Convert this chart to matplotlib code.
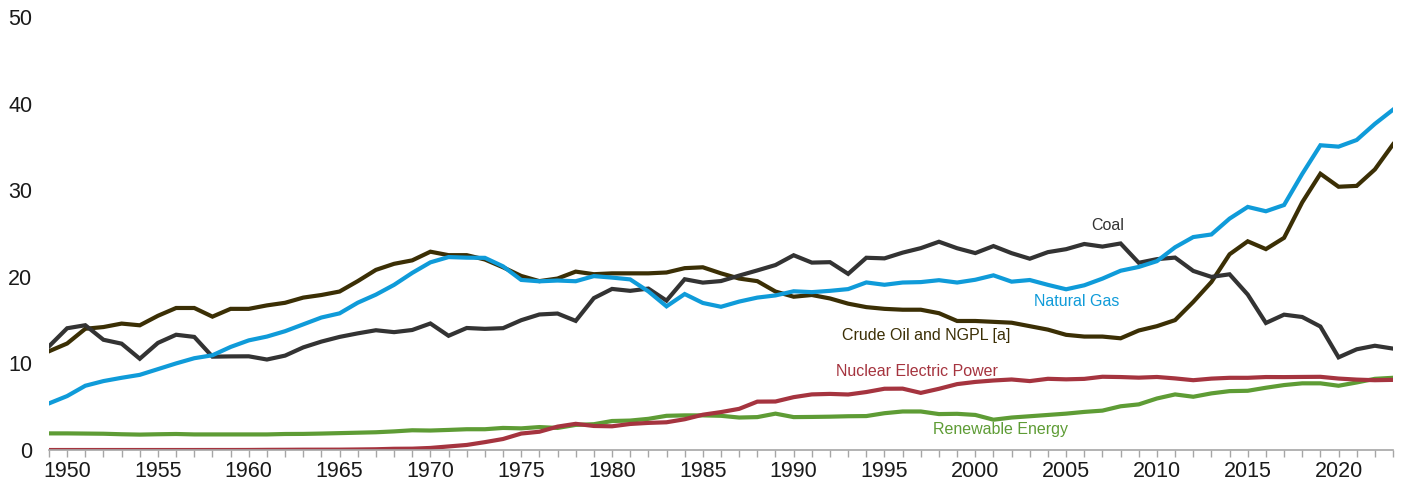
import matplotlib
matplotlib.use("Agg")
import matplotlib.pyplot as plt
import numpy as np

years = list(range(1949, 2024))

coal = [11.97, 14.06, 14.41, 12.73, 12.28, 10.54, 12.37, 13.31, 13.06, 10.78,
        10.81, 10.82, 10.45, 10.90, 11.85, 12.52, 13.06, 13.47, 13.83, 13.61,
        13.86, 14.61, 13.19, 14.09, 13.99, 14.07, 14.99, 15.65, 15.76, 14.91,
        17.54, 18.60, 18.38, 18.64, 17.25, 19.72, 19.33, 19.51, 20.14, 20.74,
        21.36, 22.49, 21.64, 21.69, 20.34, 22.20, 22.13, 22.79, 23.31, 24.05,
        23.30, 22.74, 23.55, 22.73, 22.09, 22.85, 23.19, 23.79, 23.49, 23.85,
        21.62, 22.04, 22.22, 20.68, 19.99, 20.29, 17.95, 14.67, 15.63, 15.36,
        14.26, 10.70, 11.63, 12.04, 11.71]

natural_gas = [5.38, 6.23, 7.42, 7.96, 8.34, 8.68, 9.34, 10.00, 10.60, 10.94,
               11.90, 12.66, 13.10, 13.72, 14.51, 15.30, 15.78, 17.01, 17.94, 19.07,
               20.45, 21.67, 22.28, 22.21, 22.19, 21.21, 19.64, 19.48, 19.57, 19.49,
               20.08, 19.91, 19.70, 18.32, 16.59, 18.01, 16.98, 16.54, 17.14, 17.60,
               17.85, 18.33, 18.23, 18.38, 18.58, 19.35, 19.08, 19.34, 19.39, 19.61,
               19.34, 19.66, 20.17, 19.44, 19.63, 19.07, 18.56, 19.02, 19.79, 20.70,
               21.14, 21.81, 23.41, 24.59, 24.89, 26.72, 28.07, 27.57, 28.29, 31.88,
               35.19, 35.03, 35.80, 37.66, 39.30]

crude_oil = [11.40, 12.30, 14.00, 14.20, 14.60, 14.40, 15.50, 16.40, 16.40, 15.40,
             16.30, 16.30, 16.70, 17.00, 17.60, 17.90, 18.30, 19.50, 20.80, 21.50,
             21.90, 22.90, 22.50, 22.50, 22.00, 21.10, 20.10, 19.50, 19.80, 20.60,
             20.30, 20.40, 20.40, 20.40, 20.50, 21.00, 21.10, 20.40, 19.80, 19.50,
             18.30, 17.70, 17.90, 17.50, 16.90, 16.50, 16.30, 16.20, 16.20, 15.80,
             14.90, 14.90, 14.80, 14.70, 14.30, 13.90, 13.30, 13.10, 13.10, 12.90,
             13.80, 14.30, 15.00, 17.10, 19.40, 22.60, 24.10, 23.20, 24.50, 28.60,
             31.90, 30.40, 30.50, 32.40, 35.30]

nuclear = [0.0, 0.0, 0.0, 0.0, 0.0, 0.0, 0.0, 0.0, 0.0, 0.002,
           0.002, 0.006, 0.02, 0.026, 0.038, 0.04, 0.043, 0.064, 0.088, 0.142,
           0.154, 0.239, 0.413, 0.584, 0.910, 1.272, 1.900, 2.111, 2.702, 3.024,
           2.776, 2.739, 3.008, 3.131, 3.203, 3.553, 4.076, 4.380, 4.754, 5.587,
           5.602, 6.104, 6.422, 6.479, 6.410, 6.694, 7.075, 7.087, 6.597, 7.068,
           7.610, 7.862, 8.029, 8.145, 7.959, 8.222, 8.161, 8.215, 8.459, 8.426,
           8.355, 8.434, 8.269, 8.062, 8.244, 8.338, 8.337, 8.427, 8.419, 8.438,
           8.452, 8.251, 8.131, 8.061, 8.100]

renewable = [1.92, 1.92, 1.90, 1.88, 1.82, 1.78, 1.82, 1.85, 1.80, 1.80,
             1.80, 1.80, 1.80, 1.85, 1.86, 1.90, 1.95, 2.00, 2.05, 2.15,
             2.28, 2.25, 2.32, 2.40, 2.40, 2.55, 2.50, 2.65, 2.55, 2.90,
             2.98, 3.35, 3.40, 3.60, 3.95, 4.00, 4.00, 3.95, 3.75, 3.80,
             4.20, 3.80, 3.82, 3.85, 3.90, 3.92, 4.25, 4.45, 4.45, 4.15,
             4.18, 4.05, 3.50, 3.75, 3.90, 4.05, 4.20, 4.40, 4.55, 5.05,
             5.27, 5.95, 6.42, 6.15, 6.54, 6.80, 6.84, 7.19, 7.50, 7.70,
             7.70, 7.42, 7.80, 8.22, 8.34]

series = [
    ("Coal", coal, "#333333", 2007.3, 25.9),
    ("Natural Gas", natural_gas, "#0f9bd9", 2005.6, 17.1),
    ("Crude Oil and NGPL [a]", crude_oil, "#3b2f05", 1997.3, 13.2),
    ("Nuclear Electric Power", nuclear, "#a5343f", 1996.8, 9.1),
    ("Renewable Energy", renewable, "#5e9c35", 2001.4, 2.4),
]

plt.rcParams["font.family"] = ["Liberation Sans", "DejaVu Sans"]

fig = plt.figure(figsize=(14.03, 4.9), dpi=100)
ax = fig.add_axes([0.0349, 0.0816, 0.958, 0.8837])

# draw order: renewable/nuclear at bottom, gas on top
for name, vals, col, lx, ly in [series[4], series[3], series[2], series[0], series[1]]:
    ax.plot(years, vals, color=col, lw=3.0, solid_joinstyle="miter")
    ax.text(lx, ly, name, color=col, fontsize=11.5, ha="center", va="center")

ax.set_xlim(1949, 2023)
ax.set_ylim(0, 50)
ax.set_yticks([0, 10, 20, 30, 40, 50])
ax.set_xticks(range(1950, 2021, 5))
ax.set_xticks(years, minor=True)

for s in ["top", "right", "left"]:
    ax.spines[s].set_visible(False)
ax.spines["bottom"].set_color("#a6a6a6")
ax.spines["bottom"].set_linewidth(1.2)

ax.tick_params(axis="y", length=0, pad=12, labelsize=15.5, labelcolor="#1a1a1a")
ax.tick_params(axis="x", which="both", length=5, width=1, color="#a6a6a6",
               pad=3, labelsize=15.5, labelcolor="#1a1a1a")
ax.set_clip_on(False)

fig.savefig("out.png", dpi=100)
